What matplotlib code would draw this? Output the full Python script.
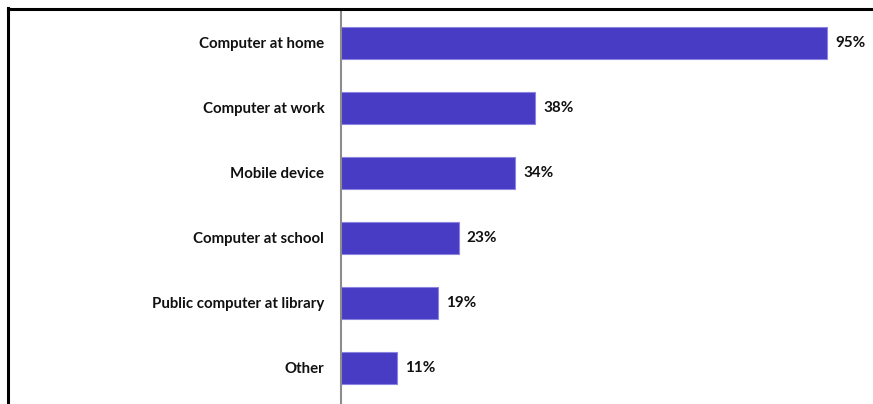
import matplotlib.pyplot as plt
from matplotlib.lines import Line2D

categories = ['Computer at home', 'Computer at work', 'Mobile device',
              'Computer at school', 'Public computer at library', 'Other']
values = [95, 38, 34, 23, 19, 11]

plt.rcParams['font.family'] = ['Lato', 'DejaVu Sans']

W, H = 873, 404
fig = plt.figure(figsize=(W / 100, H / 100), dpi=100)
ax = fig.add_axes([341 / W, 0, 1 - 341 / W, (404 - 9) / H])

y = range(len(categories))
ax.barh(y, values, height=0.49, color='#473cc3', edgecolor='#8b84e0', linewidth=0.8)
for yi, v in zip(y, values):
    ax.text(v + 1.6, yi, f'{v}%', va='center', ha='left',
            fontsize=11, fontweight='bold', color='#111111')

ax.set_xlim(0, 104)
ax.set_ylim(5.554, -0.523)
ax.set_yticks(list(y))
ax.set_yticklabels(categories, fontsize=10.8, fontweight='bold', color='#111111')
ax.tick_params(axis='y', length=0, pad=12)
ax.set_xticks([])
for side in ['top', 'right', 'bottom']:
    ax.spines[side].set_visible(False)
ax.spines['left'].set_color('#8c8c8c')
ax.spines['left'].set_linewidth(1.5)

# outer frame (left and top edges)
fig.add_artist(Line2D([7.5 / W, 7.5 / W], [0, 1 - 7.5 / H], color='black', lw=2.2,
                      transform=fig.transFigure))
fig.add_artist(Line2D([7.5 / W, 1], [1 - 8.5 / H, 1 - 8.5 / H], color='black', lw=2.2,
                      transform=fig.transFigure))

fig.savefig('out.png', dpi=100)
